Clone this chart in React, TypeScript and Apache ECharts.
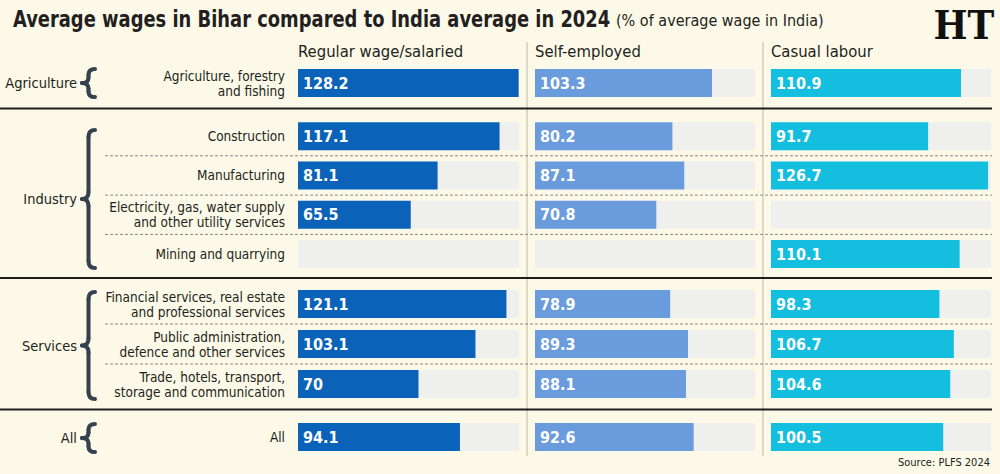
import React, { useEffect, useRef } from "react";
import * as echarts from "echarts";

// Sectors, top to bottom, with the broad group each belongs to
const sectors = [
  "Agriculture, forestry\nand fishing",
  "Construction",
  "Manufacturing",
  "Electricity, gas, water supply\nand other utility services",
  "Mining and quarrying",
  "Financial services, real estate\nand professional services",
  "Public administration,\ndefence and other services",
  "Trade, hotels, transport,\nstorage and communication",
  "All",
];
const sectorGroup = [
  "Agriculture",
  "Industry",
  "Industry",
  "Industry",
  "Industry",
  "Services",
  "Services",
  "Services",
  "All",
];
const groups = ["Agriculture", "Industry", "Services", "All"];
const columns = ["Regular wage/salaried", "Self-employed", "Casual labour"];

// Bihar wage as % of the India average wage (null = not reported)
const regularWage = [128.2, 117.1, 81.1, 65.5, null, 121.1, 103.1, 70, 94.1];
const selfEmployed = [103.3, 80.2, 87.1, 70.8, null, 78.9, 89.3, 88.1, 92.6];
const casualLabour = [110.9, 91.7, 126.7, null, 110.1, 98.3, 106.7, 104.6, 100.5];

const TITLE = "Average wages in Bihar compared to India average in 2024";
const SUBTITLE = "(% of average wage in India)";
const SOURCE = "Source: PLFS 2024";

const AXIS_MAX = 128.4;

const COLORS = ["#0a63b9", "#6a9cdd", "#13bedf"];
const TRACK = "#efefed";
const BG = "#fcf9e8";
const INK = "#231f20";
const BRACE = "#34424f";
const FONT =
  '"Liberation Sans Narrow", "DejaVu Sans Condensed", "Roboto Condensed", "Open Sans", sans-serif';

// Vertical bands for each group: top edge, row pitch, brace extent
const bands = [
  { top: 63, row: 40, braceTop: 69, braceBottom: 97 },
  { top: 116.5, row: 39.3, braceTop: 130, braceBottom: 268 },
  { top: 284, row: 40, braceTop: 292, braceBottom: 399 },
  { top: 417, row: 40, braceTop: 424, braceBottom: 452 },
];
const panels = [
  { left: 298, width: 221 },
  { left: 535, width: 220 },
  { left: 771, width: 220 },
];
const ruleYs = [108.5, 278, 409.5];
const dividerXs = [527, 763];

function brace(yTop: number, yBottom: number) {
  const tip = 82;
  const spine = 88.5;
  const end = 95;
  const mid = (yTop + yBottom) / 2;
  const r = Math.min(7, (yBottom - yTop) / 5);
  const style = { stroke: BRACE, lineWidth: 4, fill: null, lineCap: "round" };
  const curve = (x1: number, y1: number, cx: number, cy: number, x2: number, y2: number) => ({
    type: "bezierCurve",
    shape: { x1, y1, cpx1: cx, cpy1: cy, x2, y2 },
    style,
    silent: true,
  });
  const line = (y1: number, y2: number) => ({
    type: "line",
    shape: { x1: spine, y1, x2: spine, y2 },
    style,
    silent: true,
  });
  return [
    curve(end, yTop, spine, yTop, spine, yTop + r),
    line(yTop + r, mid - r),
    curve(spine, mid - r, spine, mid, tip, mid),
    curve(tip, mid, spine, mid, spine, mid + r),
    line(mid + r, yBottom - r),
    curve(spine, yBottom - r, spine, yBottom, end, yBottom),
  ];
}

export default function App() {
  const ref = useRef<HTMLDivElement>(null);

  useEffect(() => {
    if (!ref.current) return;
    const chart = echarts.init(ref.current, undefined, { renderer: "svg" });
    const valueSets = [regularWage, selfEmployed, casualLabour];

    const grid: any[] = [];
    const xAxis: any[] = [];
    const yAxis: any[] = [];
    const series: any[] = [];
    const graphic: any[] = [];

    groups.forEach((g, b) => {
      const idx = sectors.map((_, i) => i).filter((i) => sectorGroup[i] === g);
      const cats = idx.map((i) => sectors[i]);
      const band = bands[b];
      panels.forEach((p, c) => {
        const gi = grid.length;
        grid.push({
          left: p.left,
          width: p.width,
          top: band.top,
          height: band.row * cats.length,
          containLabel: false,
        });
        xAxis.push({
          type: "value",
          gridIndex: gi,
          min: 0,
          max: AXIS_MAX,
          show: false,
        });
        yAxis.push({
          type: "category",
          gridIndex: gi,
          data: cats,
          inverse: true,
          axisLine: { show: false },
          axisTick: { show: false },
          splitLine: { show: false },
          axisLabel: {
            show: c === 0,
            margin: 13,
            fontFamily: FONT,
            fontSize: 13.5,
            lineHeight: 15,
            color: INK,
            align: "right",
          },
        });
        series.push({
          type: "bar",
          xAxisIndex: gi,
          yAxisIndex: gi,
          data: cats.map(() => AXIS_MAX),
          barWidth: 28,
          barGap: "-100%",
          itemStyle: { color: TRACK },
          silent: true,
          z: 1,
        });
        series.push({
          type: "bar",
          name: columns[c],
          xAxisIndex: gi,
          yAxisIndex: gi,
          data: idx.map((i) => valueSets[c][i]),
          barWidth: 28,
          barGap: "-100%",
          itemStyle: { color: COLORS[c] },
          z: 2,
          label: {
            show: true,
            position: "insideLeft",
            distance: 5,
            color: "#ffffff",
            fontFamily: FONT,
            fontWeight: "bold",
            fontSize: 16,
          },
        });
      });

      // group name and brace
      graphic.push({
        type: "text",
        x: 77,
        y: (band.braceTop + band.braceBottom) / 2,
        style: {
          text: g,
          fontFamily: FONT,
          fontSize: 14.5,
          fill: INK,
          align: "right",
          verticalAlign: "middle",
        },
      });
      graphic.push(...brace(band.braceTop, band.braceBottom));

      // dashed separators between rows of a group
      for (let k = 1; k < cats.length; k++) {
        const y = band.top + band.row * k;
        graphic.push({
          type: "line",
          shape: { x1: 105, y1: y, x2: 992, y2: y },
          style: { stroke: "#8a8a86", lineWidth: 1, lineDash: [3, 2] },
          silent: true,
        });
      }
    });

    ruleYs.forEach((y) =>
      graphic.push({
        type: "line",
        shape: { x1: 0, y1: y, x2: 992, y2: y },
        style: { stroke: "#1e1e1e", lineWidth: 2 },
        silent: true,
      })
    );
    dividerXs.forEach((x) =>
      graphic.push({
        type: "line",
        shape: { x1: x, y1: 42, x2: x, y2: 456 },
        style: { stroke: "#dcd8c4", lineWidth: 2 },
        silent: true,
        z: -1,
      })
    );

    columns.forEach((name, c) =>
      graphic.push({
        type: "text",
        x: panels[c].left,
        y: 51,
        style: {
          text: name,
          fontFamily: FONT,
          fontSize: 16.5,
          fill: INK,
          verticalAlign: "middle",
        },
      })
    );

    // title is set a little narrower than the condensed face renders by default
    graphic.push({
      type: "text",
      x: 13,
      y: 19,
      scaleX: 0.865,
      style: {
        text: TITLE,
        fontFamily: FONT,
        fontSize: 23,
        fontWeight: "bold",
        fill: INK,
        verticalAlign: "middle",
      },
    });
    graphic.push({
      type: "text",
      x: 616,
      y: 20,
      style: {
        text: SUBTITLE,
        fontFamily: FONT,
        fontSize: 16,
        fill: INK,
        verticalAlign: "middle",
      },
    });

    graphic.push({
      type: "text",
      x: 964,
      y: 25,
      scaleX: 0.9,
      style: {
        text: "HT",
        fontFamily: '"DejaVu Serif", serif',
        fontSize: 40,
        fontWeight: "bold",
        fill: "#111111",
        align: "center",
        verticalAlign: "middle",
      },
    });

    graphic.push({
      type: "text",
      x: 990,
      y: 462,
      style: {
        text: SOURCE,
        fontFamily: FONT,
        fontSize: 11,
        fill: INK,
        align: "right",
        verticalAlign: "middle",
      },
    });

    chart.setOption({
      animation: false,
      backgroundColor: BG,
      grid,
      xAxis,
      yAxis,
      series,
      graphic,
    });
    return () => chart.dispose();
  }, []);

  return (
    <div
      ref={ref}
      style={{ position: "fixed", left: 0, top: 0, width: 1000, height: 474 }}
    />
  );
}
